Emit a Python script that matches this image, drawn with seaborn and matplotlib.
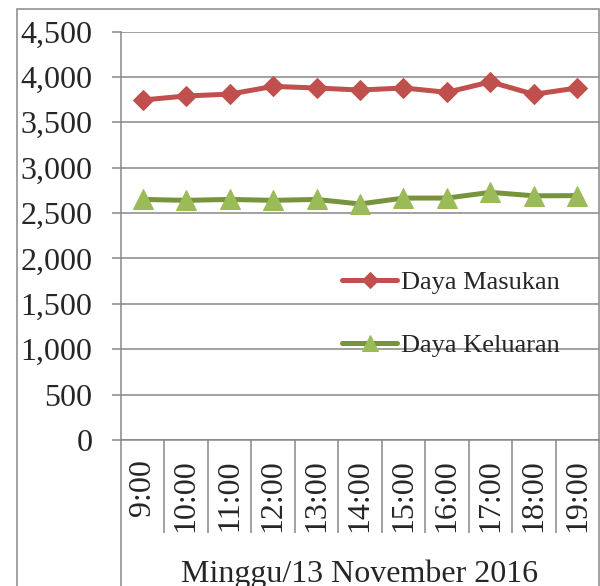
import numpy as np
import pandas as pd
import matplotlib
matplotlib.use("Agg")
import matplotlib.pyplot as plt
from matplotlib.ticker import FuncFormatter, FixedLocator
from matplotlib.lines import Line2D
from matplotlib.patches import Rectangle
import seaborn as sns

jam = ["9:00", "10:00", "11:00", "12:00", "13:00", "14:00",
       "15:00", "16:00", "17:00", "18:00", "19:00"]
daya_masukan = [3745, 3790, 3810, 3895, 3878, 3855, 3878, 3830, 3945, 3808, 3878]
daya_keluaran = [2650, 2640, 2650, 2640, 2650, 2600, 2665, 2665, 2728, 2690, 2692]
y_ticks = [0, 500, 1000, 1500, 2000, 2500, 3000, 3500, 4000, 4500]
judul_x = "Minggu/13 November 2016"

sns.set_style("white")
plt.rcParams["font.family"] = ["Liberation Serif", "DejaVu Serif"]

grey = "#878787"
W, H = 600, 586
fig = plt.figure(figsize=(W / 100, H / 100), dpi=100)
ax = fig.add_axes([121 / W, 146 / H, 478 / W, 408.5 / H])

df = pd.DataFrame({"jam": jam, "masukan": daya_masukan, "keluaran": daya_keluaran})

sns.lineplot(data=df, x="jam", y="masukan", ax=ax, color="#C0504D", lw=3.6,
             marker="D", ms=10, markerfacecolor="#C0504D",
             markeredgecolor="#C0504D", label="Daya Masukan", sort=False)
sns.lineplot(data=df, x="jam", y="keluaran", ax=ax, color="#77933C", lw=3.6,
             marker="^", ms=14, markerfacecolor="#9BBB59",
             markeredgecolor="#9BBB59", label="Daya Keluaran", sort=False)

ax.set_xlim(-0.5, len(jam) - 0.5)
ax.set_ylim(0, 4500)
ax.set_yticks(y_ticks)
ax.yaxis.set_major_formatter(FuncFormatter(lambda v, p: f"{v:,.0f}"))
ax.grid(axis="y", color=grey, lw=1.1)
ax.grid(axis="x", visible=False)
ax.tick_params(axis="y", labelsize=23, length=6.5, width=1.1, color=grey,
               pad=14, left=True)

ax.set_xticks(range(len(jam)))
ax.set_xticklabels(jam, rotation=90, fontsize=23)
ax.tick_params(axis="x", which="major", length=0, pad=14)
ax.xaxis.set_minor_locator(FixedLocator(np.arange(0.5, len(jam) - 1, 1)))
ax.tick_params(axis="x", which="minor", length=67, width=1.1, color=grey,
               bottom=True, direction="out")
ax.set_xlabel("")
ax.set_ylabel("")

for s in ["top", "right"]:
    ax.spines[s].set_visible(False)
for s in ["left", "bottom"]:
    ax.spines[s].set_color(grey)
    ax.spines[s].set_linewidth(1.1)

leg = ax.legend(loc="upper left", bbox_to_anchor=(0.462, 0.415), frameon=False,
                fontsize=19, handlelength=2.1, handletextpad=0.15,
                labelspacing=1.5, borderaxespad=0, borderpad=0)
# legend markers are smaller than the ones on the lines
for h, m in zip(leg.legend_handles, [8, 11]):
    h.set_markersize(m)

# outer chart border and left group divider
fig.add_artist(Rectangle((17 / W, -0.1), 582 / W, 1.1 - 9 / H, transform=fig.transFigure,
                         fill=False, ec=grey, lw=1.1))
fig.add_artist(Line2D([121 / W, 121 / W], [0, 146 / H], transform=fig.transFigure,
                      color=grey, lw=1.1))

fig.text(360 / W, 4 / H, judul_x, ha="center", va="baseline", fontsize=23)

fig.savefig("out.png", dpi=100)
